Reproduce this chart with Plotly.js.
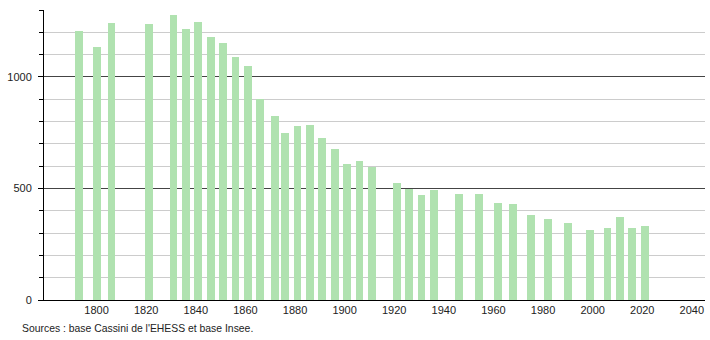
<!DOCTYPE html>
<html>
<head>
<meta charset="utf-8">
<script src="https://cdn.plot.ly/plotly-3.0.1.min.js"></script>
<style>html,body{margin:0;padding:0;background:#fff;}#chart{width:710px;height:340px;}</style>
</head>
<body>
<div id="chart"></div>
<script>
const years = [1793, 1800, 1806, 1821, 1831, 1836, 1841, 1846, 1851, 1856, 1861, 1866, 1872, 1876, 1881, 1886, 1891, 1896, 1901, 1906, 1911, 1921, 1926, 1931, 1936, 1946, 1954, 1962, 1968, 1975, 1982, 1990, 1999, 2006, 2011, 2016, 2021];
const population = [1205, 1136, 1241, 1236, 1278, 1215, 1247, 1179, 1152, 1090, 1049, 900, 825, 747, 780, 785, 726, 677, 610, 623, 595, 525, 498, 469, 493, 477, 477, 436, 432, 380, 362, 345, 314, 324, 372, 323, 332];
const xTickValues = [1800, 1820, 1840, 1860, 1880, 1900, 1920, 1940, 1960, 1980, 2000, 2020, 2040];
const yTickValues = [0, 500, 1000];
const sourceText = "Sources : base Cassini de l'EHESS et base Insee.";

const trace = {
  type: 'bar',
  x: years,
  y: population,
  width: 3.2,
  marker: {color: 'rgb(176,226,176)', line: {width: 0}},
  hoverinfo: 'x+y'
};

const layout = {
  width: 710,
  height: 340,
  margin: {l: 44, r: 5, t: 10, b: 40},
  paper_bgcolor: '#fff',
  plot_bgcolor: '#fff',
  font: {family: 'Liberation Sans, Arial, sans-serif', size: 11, color: '#222'},
  showlegend: false,
  bargap: 0,
  xaxis: {
    range: [1778.8, 2045.3],
    tickvals: xTickValues,
    ticks: '',
    showgrid: false,
    showline: true,
    linecolor: '#000',
    linewidth: 1,
    zeroline: false,
    tickfont: {size: 11, color: '#222'}
  },
  yaxis: {
    range: [0, 1300],
    tickvals: yTickValues,
    ticks: 'outside',
    ticklen: 5,
    tickcolor: '#000',
    ticklabelstandoff: 4,
    showgrid: true,
    gridcolor: '#444',
    gridwidth: 1,
    showline: true,
    linecolor: '#000',
    linewidth: 1,
    zeroline: false,
    tickfont: {size: 11, color: '#222'},
    minor: {
      dtick: 100,
      tick0: 0,
      ticks: 'outside',
      ticklen: 4,
      tickcolor: '#000',
      showgrid: true,
      gridcolor: '#cccccc',
      gridwidth: 1
    }
  },
  annotations: [{
    text: sourceText,
    xref: 'paper', yref: 'paper',
    x: 0, y: 0,
    xanchor: 'left', yanchor: 'middle',
    xshift: -24, yshift: -28,
    showarrow: false,
    font: {size: 10.4, color: '#222'}
  }]
};

Plotly.newPlot('chart', [trace], layout, {displayModeBar: false, staticPlot: true});
</script>
</body>
</html>
